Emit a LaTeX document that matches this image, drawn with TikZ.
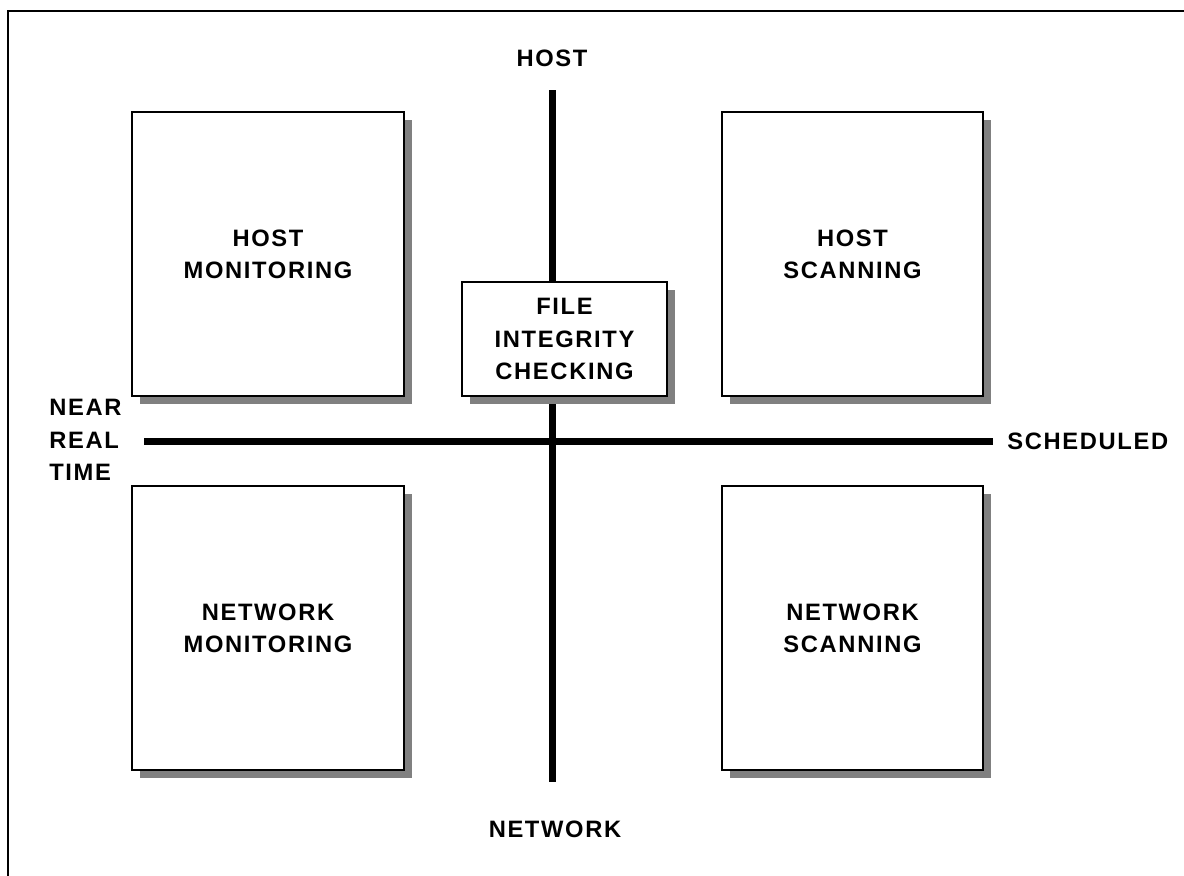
\documentclass[tikz,border=0pt]{standalone}
\usepackage{fontspec}
\setmainfont{Liberation Sans}
\newfontfamily\quadfont[LetterSpace=7]{Liberation Sans}
\usepackage{tikz}
\usetikzlibrary{positioning,shadows}

\begin{document}
\begin{tikzpicture}[
        x=0.02cm, y=-0.02cm,
        lbl/.style={font=\quadfont\bfseries\fontsize{13.5}{18.4}\selectfont, align=center, inner sep=0pt},
        quad/.style={lbl, draw=black, line width=0.04cm, fill=white, inner sep=0pt,
            drop shadow={shadow xshift=0.16cm, shadow yshift=-0.16cm, fill=black!50, opacity=1}},
        bigquad/.style={quad, minimum width=5.44cm, minimum height=5.68cm},
        rquad/.style={quad, minimum width=5.22cm, minimum height=5.68cm},
        axis/.style={line width=0.14cm, draw=black}
    ]
        \useasboundingbox (0,0) rectangle (1184,876);

        % Rahmen oben und links
        \draw[line width=0.04cm] (8,876) -- (8,11) -- (1184,11);

        % Achsen
        \coordinate (vtop) at (552,90);
        \coordinate (vbot) at (552,782);
        \coordinate (hleft) at (144,441);
        \coordinate (hright) at (993,441);
        \draw[axis] (vtop) -- (vbot);
        \draw[axis] (hleft) -- (hright);

        % Achsenbeschriftungen
        \node[lbl] (host) at (552,58) {HOST};
        \node[lbl] (network) at (555,829) {NETWORK};
        \node[lbl, anchor=west] (sched) at (1007,441) {SCHEDULED};
        \node[lbl, anchor=west, align=left] (nrt) at (49,440) {NEAR\\REAL\\TIME};

        % Quadranten
        \node[bigquad] (hostmon) at (268,254) {HOST\\MONITORING};
        \node[rquad] (hostscan) at (852.5,254) {HOST\\SCANNING};
        \node[bigquad] (netmon) at (268,628) {NETWORK\\MONITORING};
        \node[rquad] (netscan) at (852.5,628) {NETWORK\\SCANNING};

        % Mitte
        \node[quad, minimum width=4.1cm, minimum height=2.28cm] (fic) at (564.5,339) {FILE\\INTEGRITY\\CHECKING};
    \end{tikzpicture}
\end{document}
